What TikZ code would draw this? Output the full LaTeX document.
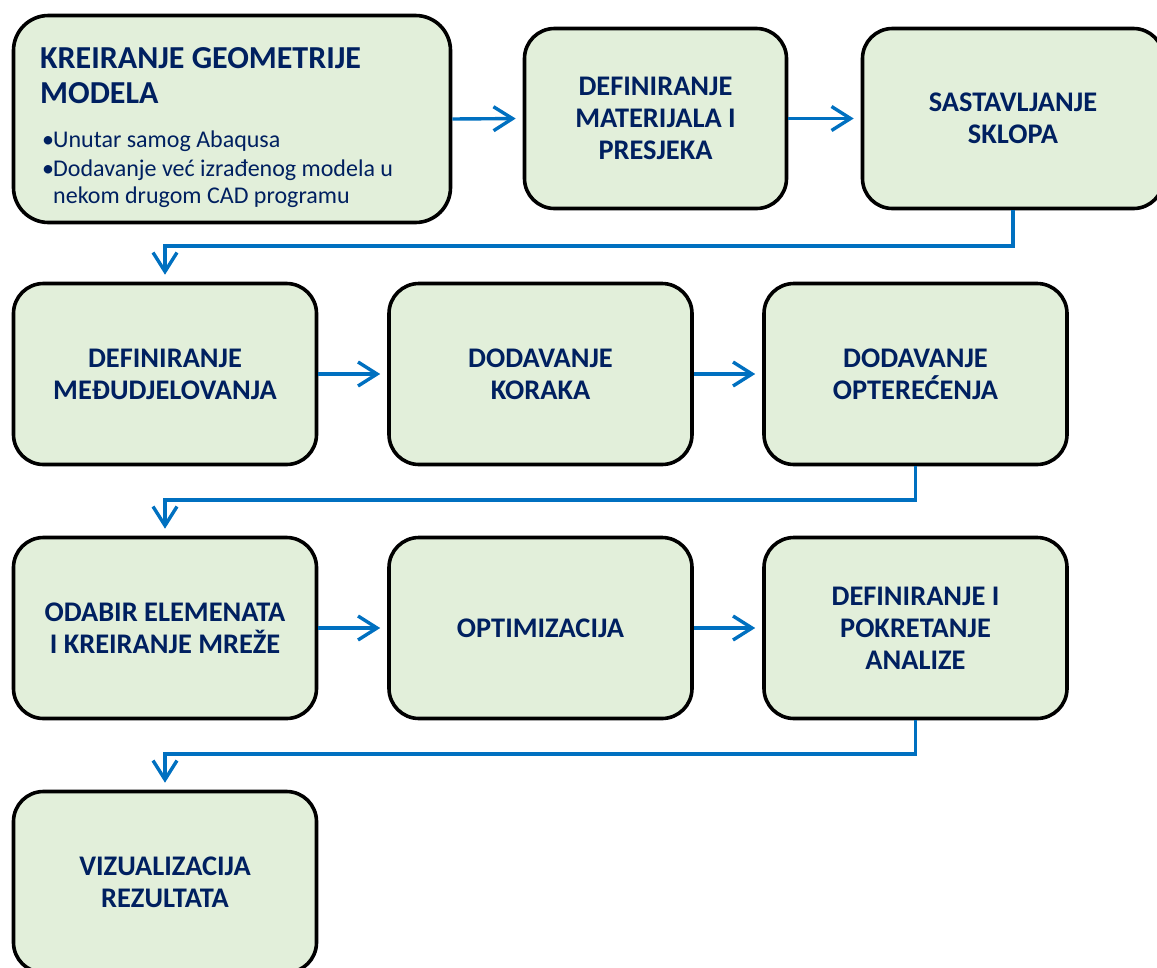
\documentclass[tikz,border=0pt]{standalone}
\usepackage{fontspec}
\setmainfont{Carlito}
\usetikzlibrary{arrows.meta}
\definecolor{txt}{HTML}{002060}
\definecolor{fillg}{HTML}{E2EFDA}
\definecolor{arrc}{HTML}{0070C0}
\begin{document}
\begin{tikzpicture}[x=1pt,y=-1pt,
  box/.style={draw=black, line width=3.6pt, fill=fillg, rounded corners=30pt,
    minimum width=303pt, minimum height=181pt, inner sep=0pt, align=center,
    font=\fontsize{28.4}{32}\selectfont\bfseries, text=txt, anchor=center},
  ttl/.style={anchor=base west, inner sep=0pt, font=\fontsize{32}{35}\selectfont\bfseries, text=txt},
  bul/.style={anchor=base west, inner sep=0pt, font=\fontsize{24}{28}\selectfont, text=txt},
  arr/.style={draw=arrc, line width=3.4pt, -{Straight Barb[length=19pt,width=24pt]}, shorten >=7pt}
]
\useasboundingbox (0,0) rectangle (1157,967);
% row 1
\node[box, rounded corners=35pt, minimum width=437pt, minimum height=207pt] (b1) at (232,119) {};
\node[ttl] (t1) at (40,68) {KREIRANJE GEOMETRIJE};
\node[ttl] (t2) at (40,103) {MODELA};
\node[bul] (l1) at (42,147) {\makebox[11pt][l]{•}Unutar samog Abaqusa};
\node[bul] (l2) at (42,176) {\makebox[11pt][l]{•}Dodavanje već izrađenog modela u};
\node[bul] (l3) at (53,203) {nekom drugom CAD programu};
\node[box, minimum width=262pt, minimum height=180pt] (b2) at (655.5,118.5) {DEFINIRANJE\\MATERIJALA I\\PRESJEKA};
\node[box, minimum width=301pt, minimum height=180pt] (b3) at (1013,118.5) {SASTAVLJANJE\\SKLOPA};
% row 2
\node[box] (b4) at (165,374) {DEFINIRANJE\\MEĐUDJELOVANJA};
\node[box] (b5) at (540.5,374) {DODAVANJE\\KORAKA};
\node[box] (b6) at (915.5,374) {DODAVANJE\\OPTEREĆENJA};
% row 3
\node[box] (b7) at (165,628) {ODABIR ELEMENATA\\I KREIRANJE MREŽE};
\node[box] (b8) at (540.5,628) {OPTIMIZACIJA};
\node[box] (b9) at (915.5,628) {DEFINIRANJE I\\POKRETANJE\\ANALIZE};
% row 4
\node[box] (b10) at (165,882) {VIZUALIZACIJA\\REZULTATA};
% connectors
\coordinate (k1) at (165,246);
\coordinate (k2) at (165,500);
\coordinate (k3) at (165,754);
\draw[arr] (b1.east) -- (b2.west);
\draw[arr] (b2.east) -- (b3.west);
\draw[arr] (b3.south) |- (k1) -- (b4.north);
\draw[arr] (b4.east) -- (b5.west);
\draw[arr] (b5.east) -- (b6.west);
\draw[arr] (b6.south) |- (k2) -- (b7.north);
\draw[arr] (b7.east) -- (b8.west);
\draw[arr] (b8.east) -- (b9.west);
\draw[arr] (b9.south) |- (k3) -- (b10.north);
\end{tikzpicture}
\end{document}
